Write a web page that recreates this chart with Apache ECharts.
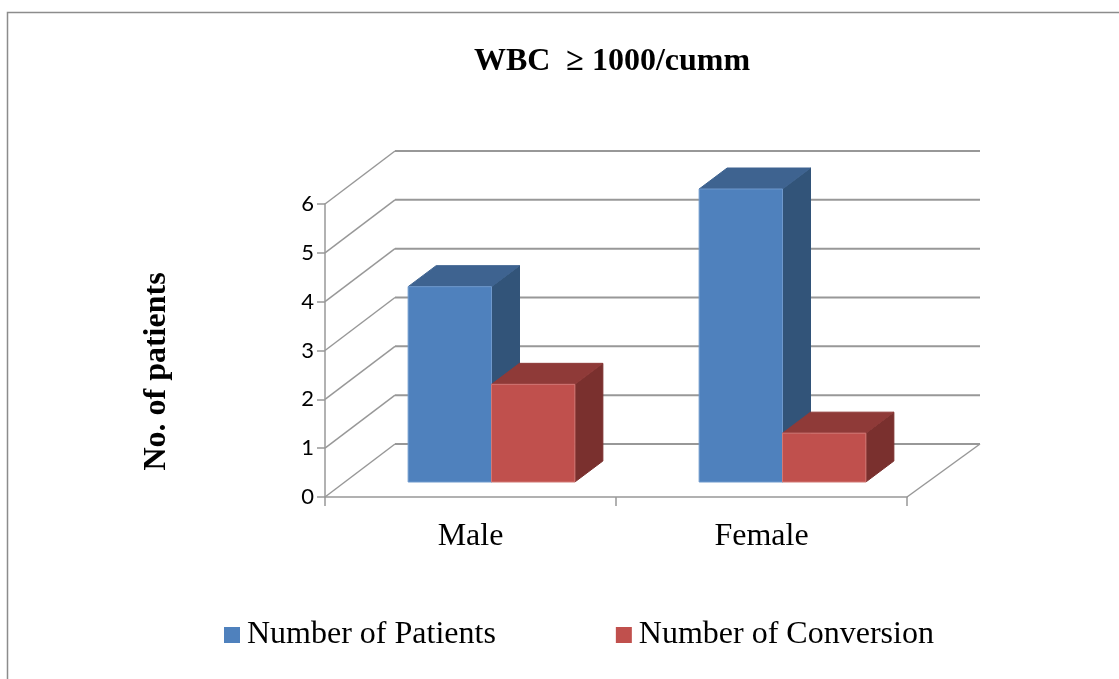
<!DOCTYPE html>
<html>
<head>
<meta charset="utf-8">
<style>
html, body { margin: 0; padding: 0; background: #fff; }
#main { width: 1119px; height: 679px; }
</style>
<script src="https://cdn.jsdelivr.net/npm/echarts@6/dist/echarts.min.js"></script>
</head>
<body>
<div id="main"></div>
<script>
var categories = ["Male", "Female"];
var patients = [4, 6];
var conversion = [2, 1];
var yTicks = [0, 1, 2, 3, 4, 5, 6];

var serif = "Liberation Serif";
var gridColor = "#989898";

// depth of the fake 3d box, in pixels
var wallDx = 70, wallDy = 53, wallExtra = 3;
var barDx = 28, barDy = 21, barLift = 15, barShift = 21, barRatio = 0.2865;

var blue = { front: "#4f81bd", top: "#3e6390", side: "#325479", edge: "#6f99cd" };
var red = { front: "#c0504d", top: "#8f3a38", side: "#7a302e", edge: "#d27875" };

function poly(points, fill, stroke) {
	return {
		type: "polygon",
		shape: { points: points },
		style: { fill: fill, stroke: stroke, lineWidth: 1 }
	};
}

function line(points, width) {
	return {
		type: "polyline",
		shape: { points: points },
		style: { fill: null, stroke: gridColor, lineWidth: width }
	};
}

// 背景网格线：左侧斜线 + 后墙横线
function renderWall(params, api) {
	var a = api.coord([0, api.value(1)]);
	var right = api.coord([1, api.value(1)]);
	var band = api.size([1, 0])[0];
	var x0 = a[0] - band / 2;
	var x1 = right[0] + band / 2;
	var yBack = a[1] - wallDy;
	var children = [
		line([[x0, a[1]], [x0 + wallDx, yBack]], 1.5),
		line([[x0 + wallDx, yBack], [x1 + wallDx + wallExtra, yBack]], 2)
	];
	if (api.value(1) === 0) {
		children.push(line([[x1 + wallDx + wallExtra, yBack], [x1, a[1]]], 1.5));
	}
	return { type: "group", children: children };
}

function barRenderer(colors, isFirst) {
	return function(params, api) {
		var band = api.size([1, 0])[0];
		var w = band * barRatio;
		var top = api.coord([api.value(0), api.value(1)]);
		var base = api.coord([api.value(0), 0]);
		var x0 = top[0] + barShift - (isFirst ? w : 0);
		var x1 = x0 + w;
		var y0 = base[1] - barLift;
		var y1 = top[1] - barLift;
		return {
			type: "group",
			children: [
				poly([[x1, y1], [x1 + barDx, y1 - barDy], [x1 + barDx, y0 - barDy], [x1, y0]], colors.side, colors.side),
				poly([[x0, y1], [x0 + barDx, y1 - barDy], [x1 + barDx, y1 - barDy], [x1, y1]], colors.top, colors.top),
				poly([[x0, y1], [x1, y1], [x1, y0], [x0, y0]], colors.front, colors.edge)
			]
		};
	};
}

var myChart = echarts.init(document.getElementById("main"));

var option = {
	animation: false,
	backgroundColor: "#fff",
	title: {
		text: "WBC  ≥ 1000/cumm",
		left: 607,
		top: 41,
		textAlign: "center",
		textStyle: { fontFamily: serif, fontWeight: "bold", fontSize: 32, color: "#000" }
	},
	grid: { left: 325, top: 204, width: 582, height: 293 },
	legend: {
		left: 219,
		top: 614,
		itemWidth: 16,
		itemHeight: 16,
		itemGap: 120,
		icon: "rect",
		data: ["Number of Patients", "Number of Conversion"],
		textStyle: { fontFamily: serif, fontSize: 32, color: "#000", padding: [6, 0, 0, 2] }
	},
	xAxis: {
		type: "category",
		data: categories,
		axisLine: { lineStyle: { color: gridColor, width: 1.5 } },
		axisTick: { show: true, length: 9, alignWithLabel: false, lineStyle: { color: gridColor, width: 1.5 } },
		axisLabel: { fontFamily: serif, fontSize: 32, color: "#000", margin: 24 }
	},
	yAxis: {
		type: "value",
		min: 0,
		max: 6,
		interval: 1,
		name: "No. of patients",
		nameLocation: "middle",
		nameGap: 152,
		nameTextStyle: { fontFamily: serif, fontWeight: "bold", fontSize: 32, color: "#000", padding: [0, 42, 0, 0] },
		splitLine: { show: false },
		axisLine: { show: true, lineStyle: { color: gridColor, width: 1.5 } },
		axisTick: { show: true, length: 8, lineStyle: { color: gridColor, width: 1.5 } },
		axisLabel: { fontFamily: "Lato", fontSize: 22, color: "#000", margin: 11, padding: [4, 0, 0, 0] }
	},
	graphic: [{
		type: "polyline",
		silent: true,
		z: -1,
		shape: { points: [[7.5, 679], [7.5, 12.5], [1119, 12.5]] },
		style: { fill: null, stroke: "#8c8c8c", lineWidth: 1.5 }
	}],
	series: [{
		type: "custom",
		name: "wall",
		silent: true,
		z: 1,
		clip: false,
		renderItem: renderWall,
		data: yTicks.map(function(t) { return [0, t]; })
	}, {
		type: "custom",
		name: "Number of Patients",
		z: 2,
		clip: false,
		itemStyle: { color: blue.front },
		renderItem: barRenderer(blue, true),
		encode: { x: 0, y: 1 },
		data: patients.map(function(v, i) { return [i, v]; })
	}, {
		type: "custom",
		name: "Number of Conversion",
		z: 3,
		clip: false,
		itemStyle: { color: red.front },
		renderItem: barRenderer(red, false),
		encode: { x: 0, y: 1 },
		data: conversion.map(function(v, i) { return [i, v]; })
	}]
};

myChart.setOption(option);
</script>
</body>
</html>
